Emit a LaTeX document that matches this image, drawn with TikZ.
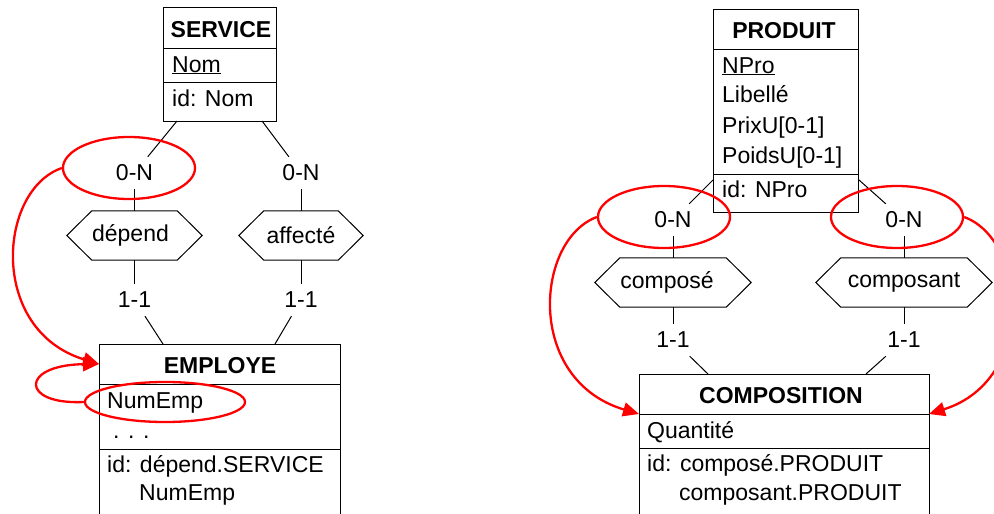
\documentclass[tikz,border=0pt]{standalone}
\usepackage{fontspec}
\setmainfont{Liberation Sans}
\usetikzlibrary{shapes.geometric,arrows.meta}
% outline of an elongated hexagon drawn round a (rectangular) relation node
\newcommand\hexoutline[1]{%
  \draw[line] (#1.west) -- ([xshift=25pt]#1.north west) -- ([xshift=-25pt]#1.north east)
    -- (#1.east) -- ([xshift=-25pt]#1.south east) -- ([xshift=25pt]#1.south west) -- cycle;}
\begin{document}
\begin{tikzpicture}[x=1pt,y=-1pt,
  font=\fontsize{23}{27}\selectfont,
  every node/.style={inner sep=0pt},
  line/.style={line width=1pt},
  entity/.style={draw, line width=1.1pt, anchor=north west},
  txt/.style={anchor=base west},
  ttl/.style={anchor=base, font=\fontsize{23}{27}\selectfont\bfseries},
  card/.style={minimum width=40pt, minimum height=32pt},
  rel/.style={minimum height=49pt},
  ring/.style={ellipse, draw=red, line width=2.3pt},
  link/.style={draw=red, line width=2.3pt, -{Triangle[length=16pt,width=14pt]}},
]
\clip (0,0) rectangle (994,514);

% ---------- SERVICE ----------
\node[entity, minimum width=113pt, minimum height=114pt] (service) at (163,7) {};
\draw[line] (service.west |- 0,48) -- (service.east |- 0,48);
\draw[line] (service.west |- 0,82) -- (service.east |- 0,82);
\node[ttl] (serviceT) at (221,37) {SERVICE};
\node[txt] (serviceA) at (172,72) {\underline{Nom}};
\node[txt] (serviceI) at (172,106) {id: Nom};

% ---------- EMPLOYE ----------
\node[entity, minimum width=241pt, minimum height=200pt] (employe) at (99,344) {};
\draw[line] (employe.west |- 0,384) -- (employe.east |- 0,384);
\draw[line] (employe.west |- 0,449) -- (employe.east |- 0,449);
\node[ttl] (employeT) at (220,373) {EMPLOYE};
\node[txt] (employeA) at (107,408) {NumEmp};
\node[txt] (employeB) at (113,438) {. . .};
\node[txt] (employeI) at (107,472) {id: dépend.SERVICE};
\node[txt] (employeJ) at (139,500) {NumEmp};

% ---------- PRODUIT ----------
\node[entity, minimum width=145pt, minimum height=203pt] (produit) at (713,9) {};
\draw[line] (produit.west |- 0,49) -- (produit.east |- 0,49);
\draw[line] (produit.west |- 0,174) -- (produit.east |- 0,174);
\node[ttl] (produitT) at (784,38) {PRODUIT};
\node[txt] (produitA) at (722,73) {\underline{NPro}};
\node[txt] (produitB) at (722,102) {Libellé};
\node[txt] (produitC) at (722,133) {PrixU[0-1]};
\node[txt] (produitD) at (722,163) {PoidsU[0-1]};
\node[txt] (produitI) at (722,197) {id: NPro};

% ---------- COMPOSITION ----------
\node[entity, minimum width=290pt, minimum height=200pt] (composition) at (639,374) {};
\draw[line] (composition.west |- 0,414) -- (composition.east |- 0,414);
\draw[line] (composition.west |- 0,448) -- (composition.east |- 0,448);
\node[ttl] (compositionT) at (781,403) {COMPOSITION};
\node[txt] (compositionA) at (647,438) {Quantité};
\node[txt] (compositionI) at (647,471) {id: composé.PRODUIT};
\node[txt] (compositionJ) at (679,500) {composant.PRODUIT};

% ---------- relation types ----------
\node[rel, minimum width=135pt] (depend) at (134.5,235.5) {dépend\hspace*{8pt}};
\node[rel, minimum width=124pt] (affecte) at (301,235.5) {affecté};
\node[rel, minimum width=156pt] (compose) at (673,282.5) {composé\hspace*{12pt}};
\node[rel, minimum width=176pt] (composant) at (904,282.5) {composant};
\hexoutline{depend}
\hexoutline{affecte}
\hexoutline{compose}
\hexoutline{composant}

% ---------- cardinalities ----------
\node[card] (cDepS) at (134.5,173) {0-N};
\node[card] (cDepE) at (134.5,300) {1-1};
\node[card] (cAffS) at (301,173) {0-N};
\node[card] (cAffE) at (301,300) {1-1};
\node[card] (cCpeP) at (673,220) {0-N};
\node[card] (cCpeC) at (673,340) {1-1};
\node[card] (cCptP) at (904,220) {0-N};
\node[card] (cCptC) at (904,340) {1-1};

% attachment points on the entity boxes
\coordinate (svcL) at (177,121);
\coordinate (svcR) at (262,121);
\coordinate (empL) at (163,344);
\coordinate (empR) at (275,344);
\coordinate (proL) at (713,180);
\coordinate (proR) at (859,180);
\coordinate (cmpL) at (708,374);
\coordinate (cmpR) at (866,374);

% ---------- role lines ----------
\draw[line] (svcL) -- (cDepS);
\draw[line] (cDepS) -- (depend);
\draw[line] (depend) -- (cDepE);
\draw[line] (cDepE) -- (empL);
\draw[line] (svcR) -- (cAffS);
\draw[line] (cAffS) -- (affecte);
\draw[line] (affecte) -- (cAffE);
\draw[line] (cAffE) -- (empR);
\draw[line] (proL) -- (cCpeP);
\draw[line] (cCpeP) -- (compose);
\draw[line] (compose) -- (cCpeC);
\draw[line] (cCpeC) -- (cmpL);
\draw[line] (proR) -- (cCptP);
\draw[line] (cCptP) -- (composant);
\draw[line] (composant) -- (cCptC);
\draw[line] (cCptC) -- (cmpR);

% ---------- red highlights ----------
\node[ring, minimum width=132pt, minimum height=62pt] (ringDep) at (129,168) {};
\node[ring, minimum width=160pt, minimum height=40pt] (ringNum) at (165,402) {};
\node[ring, minimum width=132pt, minimum height=62pt] (ringCpe) at (664,217) {};
\node[ring, minimum width=132pt, minimum height=62pt] (ringCpt) at (897,217) {};

\coordinate (empIn) at (99,364);
\coordinate (cmpInL) at (639,414);
\coordinate (cmpInR) at (929,414);

\draw[link] (ringDep.west) .. controls (-2,190) and (-12,330) .. (empIn);
\draw[link] (ringNum.west) .. controls (20,405) and (20,365) .. (empIn);
\draw[link] (ringCpe.west) .. controls (535,240) and (525,380) .. (cmpInL);
\draw[link] (ringCpt.east) .. controls (1027,240) and (1037,380) .. (cmpInR);
\end{tikzpicture}
\end{document}
